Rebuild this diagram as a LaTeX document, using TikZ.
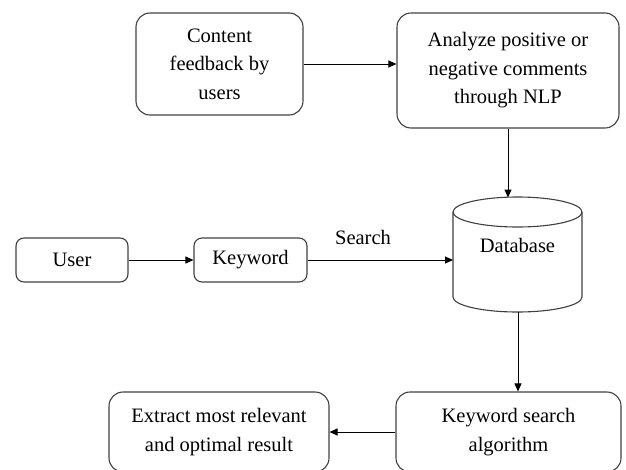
\documentclass[tikz,border=0pt]{standalone}
\usepackage{fontspec}
\setmainfont{Liberation Serif}
\usetikzlibrary{arrows.meta}
\begin{document}
\begin{tikzpicture}[x=1pt,y=-1pt,
  line width=1.1pt,
  box/.style={draw=black!75, rounded corners=#1, align=center, inner sep=0pt,
    font=\fontsize{20.5}{28.5}\selectfont},
  box/.default=14pt,
  arr/.style={draw=black, line width=1pt, -{Triangle[length=8pt,width=7pt]}},
  lbl/.style={font=\fontsize{20.5}{28.5}\selectfont}
]
\clip (0,0) rectangle (626,469);
\useasboundingbox (0,0) rectangle (626,469);

\node[box, minimum width=167pt, minimum height=102pt] (content) at (219.5,64) {Content\\feedback by\\users};
\node[box, minimum width=222pt, minimum height=115pt] (analyze) at (508,70.5) {Analyze positive or\\negative comments\\through NLP};
\node[box=8pt, minimum width=112pt, minimum height=44pt] (user) at (72,260) {User};
\node[box=8pt, minimum width=113pt, minimum height=44pt] (keyword) at (250.5,260) {Keyword};
\node[box, minimum width=225pt, minimum height=80pt] (kws) at (508.5,432) {Keyword search\\algorithm};
\node[box, minimum width=220pt, minimum height=80pt] (extract) at (219,432) {Extract most relevant\\and optimal result};

% database cylinder
\draw[black!75] (453,212) -- (453,297) arc[start angle=180,end angle=360,x radius=64.5pt,y radius=15pt] -- (582,212);
\draw[black!75] (517.5,212) ellipse[x radius=64.5pt,y radius=15pt];
\node[lbl] (db) at (517.5,245) {Database};
\coordinate (dbtop) at (508,197.5);
\coordinate (dbwest) at (453,260);
\coordinate (dbbot) at (518,312);

\draw[arr] (content.east) -- (analyze.west |- content.east);
\draw[arr] (analyze.south) -- (dbtop);
\draw[arr] (user) -- (keyword);
\draw[arr] (keyword.east) -- (dbwest);
\node[lbl] (search) at (363,237) {Search};
\draw[arr] (dbbot) -- (dbbot |- kws.north);
\draw[arr] (kws.west) -- (extract.east);
\end{tikzpicture}
\end{document}
